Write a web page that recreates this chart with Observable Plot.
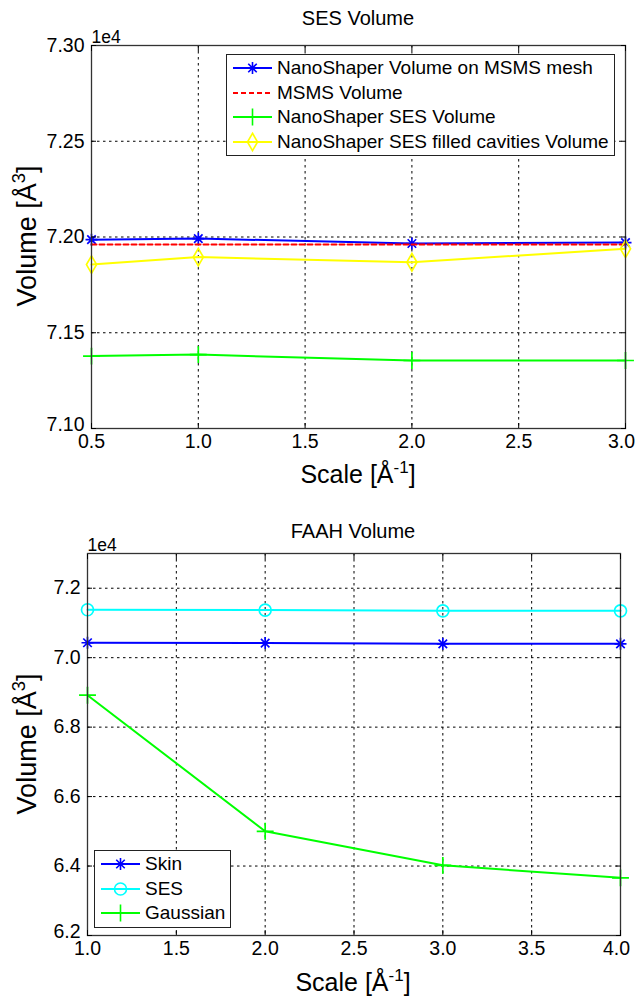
<!DOCTYPE html>
<html><head><meta charset="utf-8">
<script src="https://cdn.jsdelivr.net/npm/d3@7"></script>
<script src="https://cdn.jsdelivr.net/npm/@observablehq/plot@0.6"></script>
<style>
body{margin:0;background:#fff;font-family:"Liberation Sans",Arial,sans-serif;color:#000;}
#wrap{position:relative;width:635px;height:1001px;overflow:hidden;}
.abs{position:absolute;}
.title{font-size:20px;transform:translate(-50%,-50%);white-space:nowrap;}
.xlab{font-size:25px;transform:translate(-50%,-50%);white-space:nowrap;}
.ylab{font-size:27px;transform:translate(-50%,-50%) rotate(-90deg);white-space:nowrap;}
sup{font-size:0.68em;vertical-align:0.55em;line-height:0;}
.legend{border:1px solid #222;background:#fff;font-size:19px;box-sizing:border-box;}
.row{position:absolute;left:0;height:24px;display:flex;align-items:center;white-space:nowrap;}
</style></head><body><div id="wrap"></div>
<script>
// ---- data: SES Volume (values in Å^3) ----
const sesScale = [0.5, 1.0, 2.0, 3.0];
const nsOnMsms = [71986, 71992, 71966, 71971];
const msmsVol = [71961, 71961, 71961, 71961];
const nsSes = [71378, 71386, 71355, 71355];
const nsSesFilled = [71856, 71895, 71868, 71938];
const sesNames = ["NanoShaper Volume on MSMS mesh", "MSMS Volume", "NanoShaper SES Volume", "NanoShaper SES filled cavities Volume"];
const sesXTicks = [0.5, 1.0, 1.5, 2.0, 2.5, 3.0];
const sesYTicks = [71000, 71500, 72000, 72500, 73000];

// ---- data: FAAH Volume ----
const faahScale = [1, 2, 3, 4];
const skinVol = [70430, 70420, 70400, 70400];
const sesVol = [71380, 71370, 71350, 71350];
const gaussVol = [68920, 65000, 64020, 63660];
const faahNames = ["Skin", "SES", "Gaussian"];
const faahXTicks = [1.0, 1.5, 2.0, 2.5, 3.0, 3.5, 4.0];
const faahYTicks = [62000, 64000, 66000, 68000, 70000, 72000];

// 8-spoke asterisk like MATLAB '*'
const star8 = {draw(ctx, size) {
  const r = Math.sqrt(size / Math.PI);
  for (const a of [0, 45, 90, 135]) {
    const c = Math.cos(a * Math.PI / 180) * r, s = Math.sin(a * Math.PI / 180) * r;
    ctx.moveTo(-c, -s); ctx.lineTo(c, s);
  }
}};

const FONT = '"Liberation Sans", Arial, sans-serif';
const wrap = document.getElementById("wrap");

function chart({xs, series, xDomain, yDomain, xTicks, yTicks, xFmt, yFmt, height, margin}) {
  const grid = {stroke: "#000", strokeOpacity: 1, strokeDasharray: "2.5,3.5", strokeWidth: 1};
  const marks = [
    Plot.gridX(xTicks, grid),
    Plot.gridY(yTicks, grid)
  ];
  for (const s of series) {
    const rows = xs.map((x, i) => ({x, y: s.values[i]}));
    marks.push(Plot.line(rows, {x: "x", y: "y", stroke: s.color, strokeWidth: 2, strokeDasharray: s.dash || null}));
    if (s.symbol) marks.push(Plot.dot(rows, {x: "x", y: "y", stroke: s.color, symbol: s.symbol, r: s.r, strokeWidth: 1.7}));
  }
  const lastX = xTicks[xTicks.length - 1];
  marks.push(
    Plot.frame({stroke: "#333", strokeWidth: 1.3}),
    Plot.axisX(xTicks.slice(0, -1), {anchor: "bottom", tickSize: 0, tickPadding: 6, tickFormat: xFmt, label: null}),
    Plot.axisX([lastX], {anchor: "bottom", tickSize: 0, tickPadding: 6, tickFormat: xFmt, label: null, dx: -4}),
    Plot.axisX(xTicks, {anchor: "bottom", tickSize: -5, tickFormat: () => "", label: null}),
    Plot.axisX(xTicks, {anchor: "top", tickSize: -5, tickFormat: () => "", label: null}),
    Plot.axisY(yTicks.slice(1), {anchor: "left", tickSize: 0, tickPadding: 7, tickFormat: yFmt, label: null}),
    Plot.axisY(yTicks.slice(0, 1), {anchor: "left", tickSize: 0, tickPadding: 7, tickFormat: yFmt, label: null, dy: -4}),
    Plot.axisY(yTicks, {anchor: "left", tickSize: -5, tickFormat: () => "", label: null}),
    Plot.axisY(yTicks, {anchor: "right", tickSize: -5, tickFormat: () => "", label: null}),
    Plot.text(["1e4"], {text: d => d, frameAnchor: "top-left", textAnchor: "start", lineAnchor: "bottom", dy: -3, fontSize: 17.5})
  );
  return Plot.plot({
    width: 635, height,
    marginTop: margin[0], marginRight: margin[1], marginBottom: margin[2], marginLeft: margin[3],
    x: {domain: xDomain},
    y: {domain: yDomain},
    style: {fontSize: "19.5px", fontFamily: FONT, background: "transparent", color: "#000", overflow: "visible"},
    marks
  });
}

function place(el, left, topPx) { el.classList.add("abs"); el.style.left = left + "px"; el.style.top = topPx + "px"; wrap.appendChild(el); return el; }
function html(cls, content, x, y) { const d = document.createElement("div"); d.className = cls; d.innerHTML = content; return place(d, x, y); }

function legend(entries, left, topPx, width, height, firstRow) {
  const box = document.createElement("div");
  box.className = "legend";
  box.style.width = width + "px"; box.style.height = height + "px";
  entries.forEach((e, i) => {
    const row = document.createElement("div");
    row.className = "row";
    row.style.top = (firstRow + i * 24.7 - 12 - 1) + "px";
    const svg = d3.create("svg").attr("width", 48).attr("height", 24).style("overflow", "visible");
    svg.append("line").attr("x1", 6).attr("x2", 45).attr("y1", 12).attr("y2", 12)
      .attr("stroke", e.color).attr("stroke-width", 2).attr("stroke-dasharray", e.dash || null);
    if (e.symbol) svg.append("path").attr("transform", "translate(25.5,12)")
      .attr("d", d3.symbol().type(e.symbol).size(e.r * e.r * Math.PI)())
      .attr("fill", "none").attr("stroke", e.color).attr("stroke-width", 1.6);
    row.appendChild(svg.node());
    const t = document.createElement("span");
    t.textContent = e.name; t.style.marginLeft = "2px";
    row.appendChild(t);
    box.appendChild(row);
  });
  place(box, left, topPx);
}

// ---- top chart ----
const sesSeries = [
  {name: sesNames[0], values: nsOnMsms, color: "#0000ff", symbol: star8, r: 6},
  {name: sesNames[1], values: msmsVol, color: "#ff0000", dash: "5,3"},
  {name: sesNames[2], values: nsSes, color: "#00ff00", symbol: d3.symbolPlus, r: 5.5},
  {name: sesNames[3], values: nsSesFilled, color: "#ffff00", symbol: d3.symbolDiamond, r: 5.3}
];
const sesChart = chart({
  xs: sesScale, series: sesSeries, xDomain: [0.5, 3], yDomain: [71000, 73000],
  xTicks: sesXTicks, yTicks: sesYTicks,
  xFmt: d => d.toFixed(1), yFmt: d => (d / 1e4).toFixed(2),
  height: 490, margin: [45, 10, 62, 91]
});
place(sesChart, 0, 0);

// ---- bottom chart ----
const faahSeries = [
  {name: faahNames[0], values: skinVol, color: "#0000ff", symbol: star8, r: 6},
  {name: faahNames[1], values: sesVol, color: "#00ffff", symbol: d3.symbolCircle, r: 6},
  {name: faahNames[2], values: gaussVol, color: "#00ff00", symbol: d3.symbolPlus, r: 5.5}
];
const faahChart = chart({
  xs: faahScale, series: faahSeries, xDomain: [1, 4], yDomain: [62000, 73000],
  xTicks: faahXTicks, yTicks: faahYTicks,
  xFmt: d => d.toFixed(1), yFmt: d => (d / 1e4).toFixed(1),
  height: 511, margin: [63, 15, 66, 87]
});
place(faahChart, 0, 490);

// titles and labels
html("title", "SES Volume", 358, 18);
html("title", "FAAH Volume", 353, 531);
html("xlab", "Scale [Å<sup>-1</sup>]", 358, 474);
html("xlab", "Scale [Å<sup>-1</sup>]", 353, 982);
html("ylab", "Volume [Å<sup>3</sup>]", 27, 236);
html("ylab", "Volume [Å<sup>3</sup>]", 27, 744);

legend(sesSeries, 226, 54, 389, 102, 14);
legend(faahSeries, 94, 850, 137, 78, 14);
</script></body></html>
